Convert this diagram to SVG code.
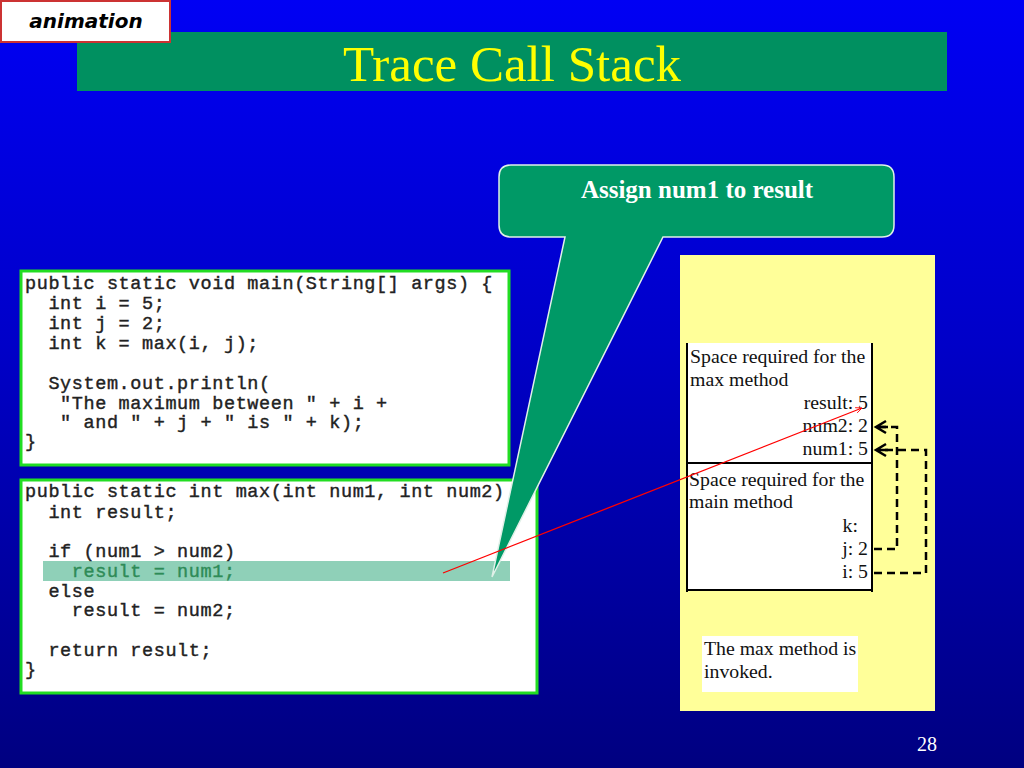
<svg xmlns="http://www.w3.org/2000/svg" width="1024" height="768" viewBox="0 0 1024 768">
<defs>
<linearGradient id="bg" x1="0" y1="0" x2="0" y2="1">
<stop offset="0" stop-color="#0000F4"/>
<stop offset="0.45" stop-color="#0000C8"/>
<stop offset="1" stop-color="#000080"/>
</linearGradient>
<marker id="redhead" viewBox="0 0 10 10" refX="9" refY="5" markerWidth="7" markerHeight="7" orient="auto" markerUnits="userSpaceOnUse">
<path d="M0,1 L9,5 L0,9" fill="none" stroke="#FF0000" stroke-width="1.2"/>
</marker>
<style>
.code{font-family:"Liberation Mono","Courier New",monospace;font-size:18.5px;letter-spacing:0.6px;fill:#222;stroke:#222;stroke-width:0.4;white-space:pre}
.hl{fill:#2E8B57;stroke:#2E8B57}
.box{fill:#fff;stroke:#22DD22;stroke-width:3}
.t{font-family:"Liberation Serif","Times New Roman",serif;font-size:19.8px;fill:#111}
.r{text-anchor:end}
.dash{fill:none;stroke:#000;stroke-width:2.5;stroke-dasharray:8,5}
.head{fill:none;stroke:#000;stroke-width:2.5}
</style>
</defs>
<rect x="0" y="0" width="1024" height="768" fill="url(#bg)"/>

<g id="title">
<rect x="77" y="32" width="870" height="59" fill="#009060"/>
<text x="512" y="81" text-anchor="middle" font-family="Liberation Serif, Times New Roman, serif" font-size="51" fill="#FFFF00">Trace Call Stack</text>
</g>

<g id="animation-tag">
<rect x="1" y="1" width="169" height="41" fill="#fff" stroke="#CC3333" stroke-width="2"/>
<text x="86" y="28" text-anchor="middle" font-family="DejaVu Sans, sans-serif" font-style="italic" font-weight="bold" font-size="20" fill="#000">animation</text>
</g>

<g id="main-code">
<rect class="box" x="21" y="271" width="488" height="194"/>
<text class="code" x="25" y="289">public static void main(String[] args) {</text>
<text class="code" x="25" y="309">  int i = 5;</text>
<text class="code" x="25" y="329">  int j = 2;</text>
<text class="code" x="25" y="349">  int k = max(i, j);</text>
<text class="code" x="25" y="389">  System.out.println(</text>
<text class="code" x="25" y="409">   "The maximum between " + i +</text>
<text class="code" x="25" y="428">   " and " + j + " is " + k);</text>
<text class="code" x="25" y="447">}</text>
</g>

<g id="max-code">
<rect class="box" x="21" y="480" width="516" height="213"/>
<rect x="43" y="561" width="467" height="20" fill="#8FD0B8"/>
<text class="code" x="25" y="497">public static int max(int num1, int num2)</text>
<text class="code" x="25" y="518">  int result;</text>
<text class="code" x="25" y="557">  if (num1 &gt; num2)</text>
<text class="code hl" x="25" y="577">    result = num1;</text>
<text class="code" x="25" y="597">  else</text>
<text class="code" x="25" y="616">    result = num2;</text>
<text class="code" x="25" y="656">  return result;</text>
<text class="code" x="25" y="675">}</text>
</g>

<g id="callout">
<path d="M511,165 H882 Q894,165 894,177 V225 Q894,237 882,237 H663 L492,577 L565,237 H511 Q499,237 499,225 V177 Q499,165 511,165 Z" fill="#009966" stroke="#E0F0E8" stroke-width="1.5"/>
<text x="697" y="198" text-anchor="middle" font-family="Liberation Serif, Times New Roman, serif" font-weight="bold" font-size="25" fill="#fff">Assign num1 to result</text>
</g>

<g id="stack-panel">
<rect x="680" y="255" width="255" height="456" fill="#FFFF99"/>
<rect x="687" y="343" width="185" height="247" fill="#fff"/>
<line x1="687" y1="343" x2="687" y2="592" stroke="#000" stroke-width="2"/>
<line x1="872" y1="343" x2="872" y2="592" stroke="#000" stroke-width="2"/>
<line x1="687" y1="463" x2="872" y2="463" stroke="#000" stroke-width="2"/>
<line x1="687" y1="590" x2="872" y2="590" stroke="#000" stroke-width="2"/>
<text class="t" x="690" y="363">Space required for the</text>
<text class="t" x="690" y="386">max method</text>
<text class="t r" x="868" y="409">result: 5</text>
<text class="t r" x="868" y="432">num2: 2</text>
<text class="t r" x="868" y="455">num1: 5</text>
<text class="t" x="689" y="486">Space required for the</text>
<text class="t" x="689" y="508">main method</text>
<text class="t r" x="858" y="532">k:</text>
<text class="t r" x="868" y="555">j: 2</text>
<text class="t r" x="868" y="578">i: 5</text>
</g>

<g id="note">
<rect x="702" y="636" width="156" height="56" fill="#fff"/>
<text class="t" x="704" y="655">The max method is</text>
<text class="t" x="704" y="678">invoked.</text>
</g>

<g id="connectors">
<path class="dash" d="M874,549 H897 V427 H880"/>
<path class="head" d="M886,421 L876,427 L886,433 M876,427 H888"/>
<path class="dash" d="M874,573 H926 V450 H880"/>
<path class="head" d="M886,444 L876,450 L886,456 M876,450 H888"/>
<line x1="443" y1="573" x2="862" y2="408" stroke="#FF0000" stroke-width="1.3" marker-end="url(#redhead)"/>
</g>

<text x="937" y="751" text-anchor="end" font-family="Liberation Serif, Times New Roman, serif" font-size="20" fill="#fff">28</text>
</svg>
